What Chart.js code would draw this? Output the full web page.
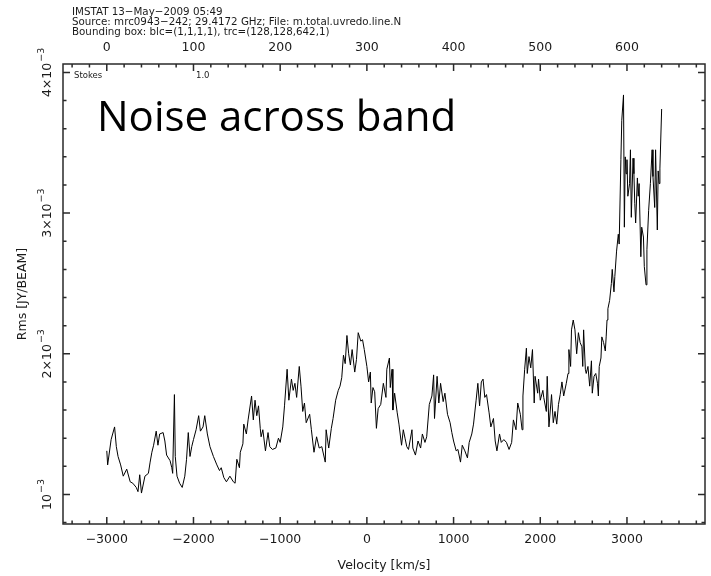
<!DOCTYPE html>
<html>
<head>
<meta charset="utf-8">
<script src="https://cdn.jsdelivr.net/npm/chart.js@4.4.1/dist/chart.umd.min.js"></script>
<style>
  html, body { margin: 0; padding: 0; background: #fff; }
  #wrap { width: 711px; height: 576px; }
</style>
</head>
<body>
<div id="wrap"><canvas id="rms" width="711" height="576"></canvas></div>
<script>
// IMSTAT rms per channel, Stokes I
const velocityKms = [
  -3000, -2990, -2950, -2910, -2890, -2870, -2840, -2810, -2770, -2730,
  -2700, -2660, -2640, -2620, -2600, -2560, -2520, -2500, -2480, -2460,
  -2430, -2410, -2390, -2350, -2330, -2310, -2270, -2250, -2240, -2220,
  -2210, -2190, -2160, -2130, -2100, -2080, -2060, -2040, -2020, -2000,
  -1970, -1940, -1920, -1890, -1870, -1840, -1810, -1770, -1730, -1700,
  -1680, -1650, -1620, -1580, -1540, -1520, -1500, -1470, -1460, -1430,
  -1420, -1390, -1370, -1330, -1310, -1290, -1270, -1250, -1230, -1220,
  -1200, -1170, -1140, -1120, -1090, -1050, -1020, -1000, -970, -950,
  -920, -900, -870, -850, -830, -810, -780, -760, -740, -720,
  -700, -660, -640, -610, -580, -550, -520, -480, -470, -440,
  -410, -390, -360, -330, -310, -290, -270, -250, -230, -210,
  -190, -170, -140, -120, -100, -70, -50, -30, 0, 20,
  40, 50, 70, 90, 110, 130, 160, 190, 220, 230,
  260, 270, 290, 300, 320, 350, 370, 400, 420, 440,
  460, 480, 520, 530, 560, 590, 620, 640, 670, 690,
  720, 750, 770, 780, 810, 830, 850, 880, 900, 930,
  960, 980, 1000, 1030, 1050, 1080, 1100, 1130, 1160, 1180,
  1210, 1230, 1260, 1280, 1300, 1320, 1340, 1360, 1380, 1410,
  1430, 1460, 1480, 1500, 1530, 1550, 1580, 1610, 1640, 1670,
  1690, 1720, 1740, 1770, 1790, 1800, 1820, 1840, 1850, 1870,
  1890, 1910, 1930, 1940, 1970, 1980, 2000, 2030, 2040, 2070,
  2080, 2100, 2130, 2150, 2170, 2190, 2210, 2230, 2250, 2270,
  2300, 2320, 2330, 2350, 2360, 2380, 2400, 2420, 2440, 2460,
  2480, 2490, 2500, 2520, 2530, 2550, 2570, 2590, 2600, 2620,
  2640, 2660, 2670, 2680, 2700, 2710, 2730, 2750, 2760, 2770,
  2780, 2800, 2820, 2830, 2850, 2860, 2880, 2900, 2910, 2930,
  2940, 2960, 2970, 2980, 2990, 3000, 3010, 3030, 3040, 3050,
  3070, 3080, 3090, 3100, 3120, 3130, 3140, 3160, 3170, 3190,
  3200, 3220, 3230, 3250, 3270, 3290, 3300, 3320, 3330, 3350,
  3360, 3370, 3380, 3400
];

// rms in units of 1e-3 Jy/beam
const rmsMilliJy = [
  1.31, 1.21, 1.39, 1.48, 1.34, 1.27, 1.21, 1.13, 1.18, 1.09,
  1.08, 1.05, 1.02, 1.14, 1.01, 1.13, 1.15, 1.23, 1.30, 1.35,
  1.45, 1.35, 1.43, 1.44, 1.38, 1.28, 1.24, 1.19, 1.15, 1.71,
  1.27, 1.13, 1.08, 1.05, 1.13, 1.25, 1.44, 1.27, 1.34, 1.39,
  1.46, 1.56, 1.45, 1.48, 1.56, 1.43, 1.34, 1.27, 1.21, 1.17,
  1.19, 1.12, 1.09, 1.13, 1.09, 1.08, 1.25, 1.19, 1.30, 1.36,
  1.50, 1.43, 1.53, 1.70, 1.53, 1.67, 1.56, 1.63, 1.47, 1.41,
  1.46, 1.31, 1.44, 1.34, 1.32, 1.33, 1.40, 1.37, 1.48, 1.63,
  1.89, 1.67, 1.82, 1.74, 1.79, 1.69, 1.91, 1.77, 1.59, 1.65,
  1.51, 1.57, 1.46, 1.30, 1.41, 1.33, 1.34, 1.23, 1.46, 1.33,
  1.47, 1.54, 1.67, 1.74, 1.77, 1.83, 1.99, 1.93, 2.13, 2.00,
  1.92, 2.03, 1.87, 1.96, 2.15, 2.09, 2.10, 2.03, 1.91, 1.80,
  1.87, 1.65, 1.76, 1.73, 1.47, 1.61, 1.64, 1.79, 1.69, 1.89,
  1.97, 1.76, 1.89, 1.60, 1.72, 1.58, 1.50, 1.35, 1.46, 1.40,
  1.34, 1.32, 1.46, 1.33, 1.28, 1.38, 1.33, 1.43, 1.37, 1.41,
  1.64, 1.70, 1.85, 1.54, 1.84, 1.65, 1.79, 1.66, 1.72, 1.57,
  1.51, 1.44, 1.38, 1.31, 1.32, 1.23, 1.35, 1.31, 1.26, 1.37,
  1.43, 1.50, 1.67, 1.79, 1.63, 1.80, 1.82, 1.69, 1.71, 1.58,
  1.48, 1.54, 1.38, 1.31, 1.43, 1.37, 1.39, 1.37, 1.32, 1.37,
  1.53, 1.46, 1.65, 1.57, 1.46, 1.70, 1.89, 2.04, 1.86, 1.98,
  1.90, 2.03, 1.65, 1.84, 1.72, 1.82, 1.67, 1.74, 1.69, 1.59,
  1.84, 1.48, 1.71, 1.51, 1.59, 1.50, 1.64, 1.71, 1.80, 1.70,
  1.79, 1.86, 2.03, 1.91, 2.17, 2.24, 2.17, 2.00, 2.15, 2.08,
  2.05, 1.91, 2.17, 1.89, 1.86, 1.91, 1.77, 1.95, 1.72, 1.84,
  1.86, 1.79, 1.70, 1.91, 1.97, 2.12, 2.08, 2.02, 2.12, 2.24,
  2.32, 2.38, 2.50, 2.60, 2.44, 2.55, 2.73, 2.85, 2.78, 3.38,
  3.66, 3.84, 2.90, 3.40, 3.28, 3.38, 3.12, 3.21, 3.45, 2.97,
  3.39, 3.28, 3.07, 2.93, 3.25, 3.12, 3.21, 2.69, 2.90, 2.83,
  2.62, 2.49, 2.74, 3.02, 3.21, 3.45, 3.26, 3.04, 3.45, 2.88,
  3.30, 3.21, 3.32, 3.74
];

const velocityTicks = [-3000, -2000, -1000, 0, 1000, 2000, 3000];
const channelTicks = [0, 100, 200, 300, 400, 500, 600];
const rmsTickMantissas = [1, 2, 3, 4];   // labelled as n x 10^-3

const headerLines = [
  'IMSTAT 13\u2212May\u22122009 05:49',
  'Source: mrc0943\u2212242; 29.4172 GHz; File: m.total.uvredo.line.N',
  'Bounding box: blc=(1,1,1,1), trc=(128,128,642,1)'
];

// spectral axis: channel 0 sits at -3000 km/s, 10 km/s per channel
const VEL_REF = -3000, VEL_STEP = 10;
const VEL_MIN = -3505, VEL_MAX = 3900;
const toChannel = v => (v - VEL_REF) / VEL_STEP;

const PG_FONT = '"DejaVu Sans", sans-serif';
const INK = '#1a1a1a';
const minus = s => String(s).replace('-', '\u2212');

// PGPLOT-like frame: box, inward major/minor ticks, rotated power labels
const pgFrame = {
  id: 'pgFrame',
  afterDraw(chart) {
    const { ctx, chartArea: a } = chart;
    const sx = chart.scales.x, st = chart.scales.xTop, sy = chart.scales.y;
    ctx.save();
    ctx.strokeStyle = '#2a2a2a';
    ctx.lineWidth = 1.5;
    ctx.strokeRect(a.left, a.top, a.right - a.left, a.bottom - a.top);

    const MAJ = 7, MIN = 3.5;
    ctx.beginPath();
    for (let v = -3400; v <= 3800; v += 200) {
      const px = sx.getPixelForValue(v);
      const len = v % 1000 === 0 ? MAJ : MIN;
      ctx.moveTo(px, a.bottom); ctx.lineTo(px, a.bottom - len);
    }
    for (let c = -40; c <= 680; c += 20) {
      const px = st.getPixelForValue(c);
      const len = c % 100 === 0 ? MAJ : MIN;
      ctx.moveTo(px, a.top); ctx.lineTo(px, a.top + len);
    }
    for (let m = 8; m <= 40; m += 2) {
      const py = sy.getPixelForValue(m * 1e-4);
      const len = m % 10 === 0 ? MAJ : MIN;
      ctx.moveTo(a.left, py); ctx.lineTo(a.left + len, py);
      ctx.moveTo(a.right, py); ctx.lineTo(a.right - len, py);
    }
    ctx.stroke();

    // y tick labels, reading bottom to top with a superscript exponent
    ctx.fillStyle = INK;
    rmsTickMantissas.forEach(n => {
      const py = sy.getPixelForValue(n * 1e-3);
      const base = n === 1 ? '10' : n + '\u00d710';
      const exp = '\u22123';
      ctx.save();
      ctx.translate(51, py);
      ctx.rotate(-Math.PI / 2);
      ctx.textBaseline = 'alphabetic';
      ctx.font = '12.5px ' + PG_FONT;
      const w1 = ctx.measureText(base).width;
      ctx.font = '9.5px ' + PG_FONT;
      const w2 = ctx.measureText(exp).width;
      const x0 = -(w1 + w2 + 1) / 2;
      ctx.font = '12.5px ' + PG_FONT;
      ctx.fillText(base, x0, 0);
      ctx.font = '9.5px ' + PG_FONT;
      ctx.fillText(exp, x0 + w1 + 1, -7);
      ctx.restore();
    });

    // header block
    ctx.font = '10.3px ' + PG_FONT;
    ctx.textBaseline = 'middle';
    headerLines.forEach((t, i) => ctx.fillText(t, 72, 12 + i * 10));

    // plane label inside the box
    ctx.font = '8.5px ' + PG_FONT;
    ctx.fillText('Stokes', 74, 76);
    ctx.fillText('1.0', 196, 76);

    // slide caption
    ctx.fillStyle = '#000';
    ctx.font = '42px "Open Sans", sans-serif';
    ctx.textBaseline = 'alphabetic';
    ctx.fillText('Noise across band', 97, 131);
    ctx.restore();
  }
};

const axisFont = { family: PG_FONT, size: 12.5 };

new Chart(document.getElementById('rms'), {
  type: 'line',
  data: {
    datasets: [{
      data: velocityKms.map((v, i) => ({ x: v, y: rmsMilliJy[i] * 1e-3 })),
      borderColor: '#000',
      borderWidth: 1,
      pointRadius: 0,
      tension: 0,
      fill: false
    }]
  },
  options: {
    responsive: false,
    animation: false,
    devicePixelRatio: 1,
    layout: { padding: { right: 6 } },
    plugins: { legend: { display: false }, tooltip: { enabled: false } },
    scales: {
      x: {
        type: 'linear',
        position: 'bottom',
        min: VEL_MIN,
        max: VEL_MAX,
        grid: { display: false },
        border: { display: false },
        afterBuildTicks: s => { s.ticks = velocityTicks.map(v => ({ value: v })); },
        afterFit: s => { s.height = 52; },
        ticks: {
          autoSkip: false, maxRotation: 0, includeBounds: false,
          color: INK, font: axisFont, padding: 0,
          callback: v => minus(v)
        },
        title: {
          display: true, text: 'Velocity [km/s]', color: INK,
          font: { family: PG_FONT, size: 12.5 }, padding: { top: 0, bottom: 3 }
        }
      },
      xTop: {
        type: 'linear',
        position: 'top',
        min: toChannel(VEL_MIN),
        max: toChannel(VEL_MAX),
        grid: { display: false },
        border: { display: false },
        afterBuildTicks: s => { s.ticks = channelTicks.map(c => ({ value: c })); },
        afterFit: s => { s.height = 64; },
        ticks: {
          autoSkip: false, maxRotation: 0, includeBounds: false,
          color: INK, font: axisFont, padding: 1
        }
      },
      y: {
        type: 'linear',
        position: 'left',
        min: 0.79e-3,
        max: 4.06e-3,
        grid: { display: false },
        border: { display: false },
        afterFit: s => { s.width = 63; },
        ticks: { display: false },
        title: {
          display: true, text: 'Rms [JY/BEAM]', color: INK,
          font: { family: PG_FONT, size: 12.5 }, padding: { top: 15, bottom: 0 }
        }
      }
    }
  },
  plugins: [pgFrame]
});
</script>
</body>
</html>
